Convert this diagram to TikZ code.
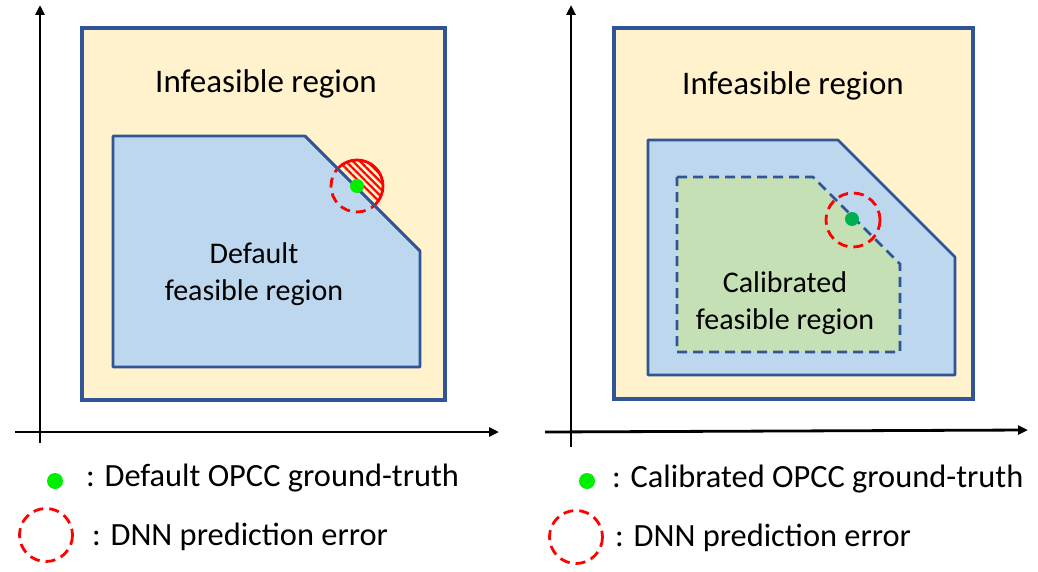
\documentclass[tikz,border=0pt]{standalone}
\usepackage{fontspec}
\setmainfont{Carlito}
\usetikzlibrary{arrows.meta,patterns.meta}
\definecolor{infeas}{HTML}{FFF2CC}
\definecolor{feas}{HTML}{BDD7EE}
\definecolor{calib}{HTML}{C5E0B4}
\definecolor{edge}{HTML}{2F5597}
\definecolor{brightgreen}{HTML}{00EE00}
\definecolor{darkgreen}{HTML}{00B050}
\tikzset{
  axis/.style={line width=2.8pt,-{Triangle[length=10pt,width=9pt]}},
  outerbox/.style={fill=infeas,draw=edge,line width=3.2pt},
  region/.style={fill=feas,draw=edge,line width=2.6pt,line join=round},
  calregion/.style={fill=calib,draw=edge,line width=2.6pt,dash pattern=on 10pt off 6pt},
  errcircle/.style={draw=red,line width=2.8pt,dash pattern=on 10pt off 6pt},
  biglbl/.style={font=\fontsize{33}{38}\selectfont,align=center,inner sep=0pt},
  lbl/.style={font=\fontsize{30}{37}\selectfont,align=center,inner sep=0pt},
  legend/.style={font=\fontsize{32.4}{38}\selectfont,anchor=west,inner sep=0pt},
}
\begin{document}
\begin{tikzpicture}[x=1pt,y=-1pt]
\useasboundingbox (0,0) rectangle (1038,572);
% ---------- left panel ----------
\coordinate (ly0) at (40,443);
\coordinate (ly1) at (40,5);
\coordinate (lx0) at (15,432);
\coordinate (lx1) at (499,432);
\draw[axis] (ly0) -- (ly1);
\draw[axis] (lx0) -- (lx1);
\draw[outerbox] (82,28) rectangle (445,400);
\draw[region] (113,136) -- (305,136) -- (420,251) -- (420,367) -- (113,367) -- cycle;
\node[biglbl] (linf) at (266,84) {Infeasible region};
\node[lbl] (ldef) at (254,274) {Default\\feasible region};
% error circle, hatched outside part
\begin{scope}
  \clip (240,64) -- (460,284) -- (460,64) -- cycle;
  \fill[pattern={Lines[angle=-45,distance=5pt,line width=2.2pt]},pattern color=red] (357,186) circle (26);
  \draw[red,line width=2.8pt] (357,186) circle (26);
\end{scope}
\begin{scope}
  \clip (240,64) -- (460,284) -- (240,284) -- cycle;
  \draw[errcircle] (357,186) circle (26);
\end{scope}
\draw[edge,line width=2.6pt] (305,136) -- (420,251);
\node[circle,fill=brightgreen,inner sep=0pt,minimum size=14pt] (ldot) at (357,186) {};
% ---------- right panel ----------
\coordinate (ry0) at (571,447);
\coordinate (ry1) at (571,5);
\coordinate (rx0) at (545,432);
\coordinate (rx1) at (1028,430);
\draw[axis] (ry0) -- (ry1);
\draw[axis] (rx0) -- (rx1);
\draw[outerbox] (614,28) rectangle (973,399);
\draw[region] (648,140) -- (838,140) -- (955,257) -- (955,375) -- (648,375) -- cycle;
\draw[calregion] (677,177) -- (813,177) -- (900,264) -- (900,352) -- (677,352) -- cycle;
\node[biglbl] (rinf) at (793,86) {Infeasible region};
\node[lbl] (rcal) at (785,303) {Calibrated\\feasible region};
\draw[errcircle] (853,220) circle (27);
\node[circle,fill=darkgreen,inner sep=0pt,minimum size=14pt] (rdot) at (852,219) {};
% ---------- legends ----------
\node[circle,fill=brightgreen,inner sep=0pt,minimum size=16pt] (lgdot) at (55,481) {};
\node[legend] (lgdottxt) at (86,478) {: Default OPCC ground-truth};
\draw[errcircle] (46,535) circle (26.5);
\node[circle,inner sep=0pt,minimum size=53pt] (lgcirc) at (46,535) {};
\node[legend] (lgcirctxt) at (92,537) {: DNN prediction error};
\node[circle,fill=brightgreen,inner sep=0pt,minimum size=16pt] (rgdot) at (587,481) {};
\node[legend] (rgdottxt) at (612,479) {: Calibrated OPCC ground-truth};
\draw[errcircle] (576,537) circle (26.5);
\node[circle,inner sep=0pt,minimum size=53pt] (rgcirc) at (576,537) {};
\node[legend] (rgcirctxt) at (615,538) {: DNN prediction error};
\end{tikzpicture}
\end{document}
